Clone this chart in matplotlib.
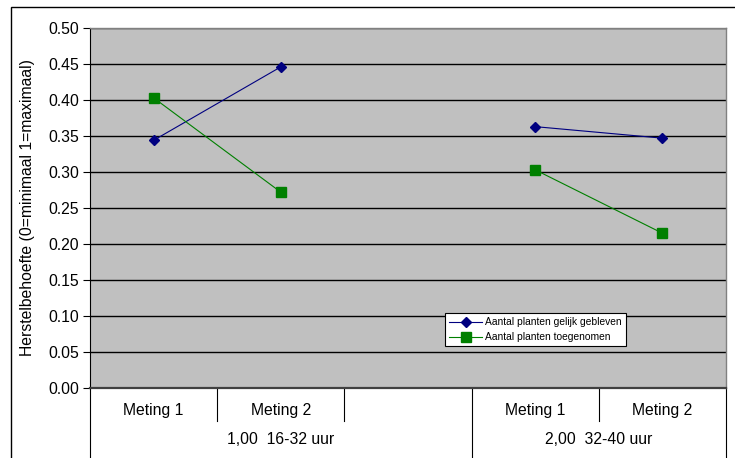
"""
Herstelbehoefte per meting, twee werktijdgroepen
"""
import matplotlib
matplotlib.use("Agg")
import matplotlib.pyplot as plt
from matplotlib.patches import Rectangle
from matplotlib.lines import Line2D

plt.rcParams['font.family'] = ['Liberation Sans', 'DejaVu Sans']

# categories (slot 2 is the empty gap between the groups)
categories = ['Meting 1', 'Meting 2', '', 'Meting 1', 'Meting 2']
groups = ['1,00  16-32 uur', '2,00  32-40 uur']
yticks = [0.00, 0.05, 0.10, 0.15, 0.20, 0.25, 0.30, 0.35, 0.40, 0.45, 0.50]

gelijk_x = [0, 1, 3, 4]
gelijk = [0.344, 0.446, 0.363, 0.347]
toegenomen_x = [0, 1, 3, 4]
toegenomen = [0.403, 0.272, 0.303, 0.215]

FS = 11.3


def main():
    fig = plt.figure(figsize=(7.35, 4.58), dpi=100)
    W, H = 735, 458

    # outer chart frame
    fig.patches.append(Rectangle((11 / W, -0.05), 1.0, (458 - 7) / H + 0.05,
                                 transform=fig.transFigure, fill=False,
                                 edgecolor='black', linewidth=1.0))

    ax = fig.add_axes([90 / W, (H - 388) / H, 636 / W, 360 / H])
    ax.set_facecolor('#c0c0c0')

    # the two lines, split per group so the gap isn't bridged
    for i, (xs, ys) in enumerate([(gelijk_x, gelijk), (toegenomen_x, toegenomen)]):
        color = '#000080' if i == 0 else '#008000'
        marker = 'D' if i == 0 else 's'
        ms = 5 if i == 0 else 6.5
        label = 'Aantal planten gelijk gebleven' if i == 0 else 'Aantal planten toegenomen'
        ax.plot(xs[:2], ys[:2], color=color, marker=marker, markersize=ms, linewidth=0.8,
                label=label, zorder=3)
        ax.plot(xs[2:], ys[2:], color=color, marker=marker, markersize=ms, linewidth=0.8,
                zorder=3)

    ax.set_xlim(-0.5, 4.5)
    ax.set_ylim(0, 0.5)
    ax.set_yticks(yticks)
    ax.set_yticklabels([f'{v:.2f}' for v in yticks], fontsize=FS)
    ax.yaxis.grid(True, color='black', linewidth=1.0)
    ax.set_axisbelow(True)
    ax.tick_params(axis='y', length=5, width=0.8, pad=3)

    ax.set_xticks(range(len(categories)))
    ax.set_xticklabels(categories, fontsize=FS)
    ax.tick_params(axis='x', length=0, pad=11)

    for side in ['top', 'right']:
        ax.spines[side].set_color('#808080')
        ax.spines[side].set_linewidth(1.0)
    ax.spines['left'].set_color('black')
    ax.spines['left'].set_linewidth(0.8)
    ax.spines['bottom'].set_color('#404040')
    ax.spines['bottom'].set_linewidth(1.6)

    ax.set_ylabel('Herstelbehoefte (0=minimaal 1=maximaal)', fontsize=FS)
    ax.yaxis.set_label_coords(-0.087, 0.5)

    # category dividers below the axis
    trans = ax.get_xaxis_transform()
    short = -33 / 360
    long_ = -70 / 360
    for x in [0.5, 1.5, 3.5]:
        ax.add_line(Line2D([x, x], [0, short], transform=trans, color='black',
                           linewidth=0.8, clip_on=False))
    for x in [-0.5, 2.5, 4.5]:
        ax.add_line(Line2D([x, x], [0, long_], transform=trans, color='black',
                           linewidth=0.8, clip_on=False))

    # group labels
    ax.text(1.0, -52 / 360, groups[0], transform=trans, ha='center', va='center', fontsize=FS)
    ax.text(3.5, -52 / 360, groups[1], transform=trans, ha='center', va='center', fontsize=FS)

    leg = ax.legend(loc='upper left', bbox_to_anchor=(355 / 636, 75 / 360), fontsize=7.4,
                    frameon=True, fancybox=False, edgecolor='black', framealpha=1,
                    handlelength=3.2, borderpad=0.4, labelspacing=0.5, handletextpad=0.3,
                    borderaxespad=0)
    leg.get_frame().set_linewidth(0.8)

    plt.savefig('out.png', dpi=100)


if __name__ == "__main__":
    main()
